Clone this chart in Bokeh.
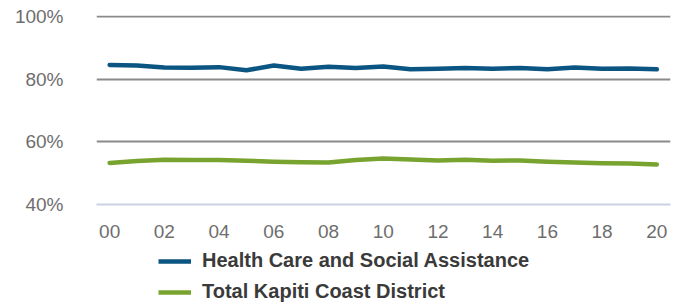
from bokeh.plotting import figure
from bokeh.layouts import column
from bokeh.models import ColumnDataSource, FixedTicker, Legend, LegendItem, Range1d
from bokeh.embed import file_html
from bokeh.resources import INLINE

years = list(range(0, 21))
year_labels = ["00", "02", "04", "06", "08", "10", "12", "14", "16", "18", "20"]
health_care = [84.6, 84.4, 83.8, 83.7, 83.9, 82.9, 84.4, 83.4, 84.0, 83.6, 84.1,
               83.2, 83.4, 83.6, 83.4, 83.6, 83.2, 83.8, 83.4, 83.5, 83.2]
kapiti_total = [53.3, 53.9, 54.3, 54.2, 54.2, 54.0, 53.7, 53.5, 53.4, 54.2, 54.7,
                54.4, 54.1, 54.3, 54.0, 54.1, 53.7, 53.4, 53.2, 53.1, 52.8]
y_ticks = [40, 60, 80, 100]
series_names = ["Health Care and Social Assistance", "Total Kapiti Coast District"]
colors = ["#0b5582", "#78a32f"]

src = ColumnDataSource(dict(x=years, hc=health_care, kc=kapiti_total))

p = figure(width=678, height=247, output_backend="svg", toolbar_location=None,
           x_range=Range1d(-0.48, 20.5), y_range=Range1d(40, 100.4),
           min_border_left=96, min_border_right=8, min_border_top=15, min_border_bottom=43)
p.outline_line_color = None
p.background_fill_color = "white"

p.line("x", "hc", source=src, line_color=colors[0], line_width=4.5, line_cap="round", line_join="round")
p.line("x", "kc", source=src, line_color=colors[1], line_width=4.5, line_cap="round", line_join="round")

# axes
p.xaxis.ticker = FixedTicker(ticks=years[::2])
p.xaxis.major_label_overrides = {years[::2][i]: year_labels[i] for i in range(len(year_labels))}
p.yaxis.ticker = FixedTicker(ticks=y_ticks)
p.yaxis.major_label_overrides = {t: f"{t}%" for t in y_ticks}
for ax in (p.xaxis[0], p.yaxis[0]):
    ax.major_tick_line_color = None
    ax.minor_tick_line_color = None
    ax.major_label_text_font = "Liberation Sans"
    ax.major_label_text_font_size = "19px"
    ax.major_label_text_color = "#6e6e6e"
p.yaxis.axis_line_color = None
p.yaxis.major_label_standoff = 27
p.xaxis.axis_line_color = "#c9d2e3"
p.xaxis.axis_line_width = 2
p.xaxis.major_label_standoff = 14

p.xgrid.grid_line_color = None
p.ygrid.ticker = FixedTicker(ticks=[60, 80, 100])
p.ygrid.grid_line_color = "#8a8a8a"
p.ygrid.grid_line_width = 2

# legend in a separate strip below the chart (its lines lie outside its ranges)
lg = figure(width=678, height=56, output_backend="svg", toolbar_location=None,
            x_range=Range1d(1000, 1678), y_range=Range1d(1000, 1056),
            min_border_left=0, min_border_right=0, min_border_top=0, min_border_bottom=0)
lg.outline_line_color = None
lg.axis.visible = False
lg.grid.visible = False
l1 = lg.line("x", "hc", source=src, line_color=colors[0], line_width=4.5)
l2 = lg.line("x", "kc", source=src, line_color=colors[1], line_width=4.5)

legend = Legend(items=[LegendItem(label=series_names[0], renderers=[l1]),
                       LegendItem(label=series_names[1], renderers=[l2])],
                location=(62, 0), orientation="vertical",
                glyph_width=33, glyph_height=20, label_height=20, spacing=8,
                label_standoff=11, padding=0, margin=0,
                border_line_color=None, background_fill_alpha=0,
                label_text_font="Liberation Sans", label_text_font_style="bold",
                label_text_font_size="20px", label_text_color="#3a3a3a")
lg.add_layout(legend, "center")

layout = column(p, lg, spacing=0)
open("out.html", "w").write(file_html(layout, INLINE))
